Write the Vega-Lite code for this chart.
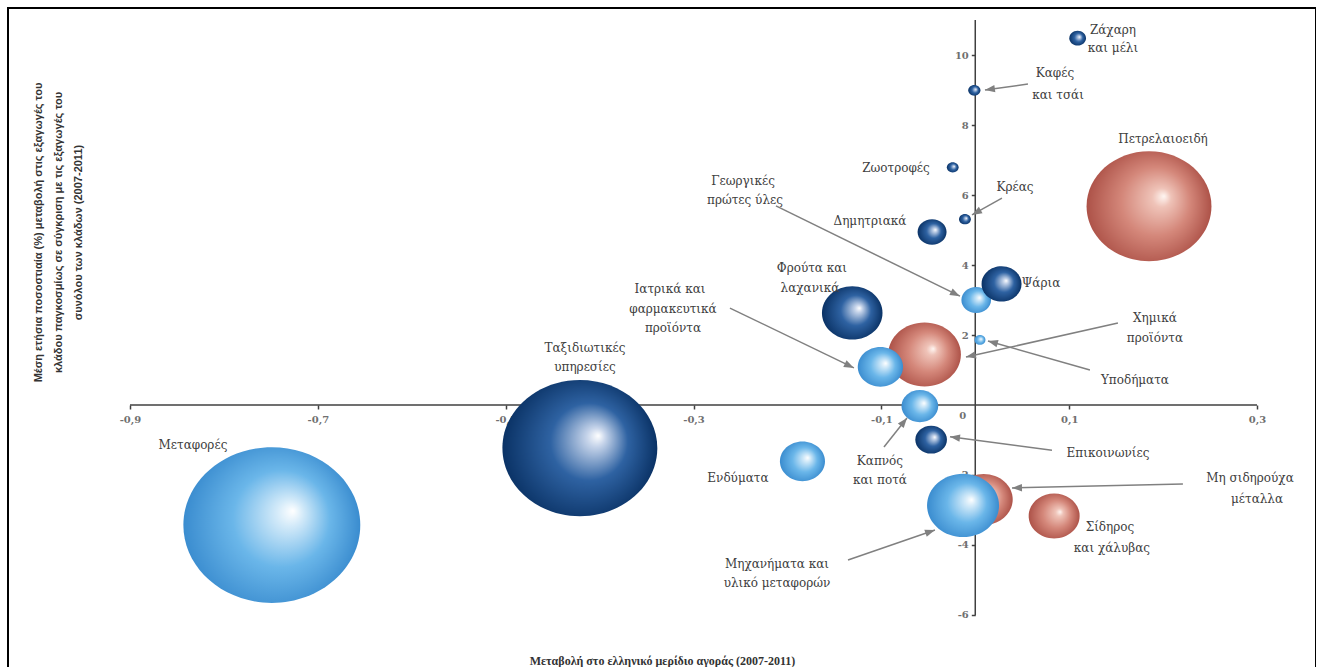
{
  "$schema": "https://vega.github.io/schema/vega-lite/v6.json",
  "width": 1308,
  "height": 661,
  "autosize": {"type": "none"},
  "padding": {"left": 8, "top": 8, "right": 0, "bottom": 0},
  "background": "white",
  "config": {
    "view": {"stroke": "#000000", "strokeWidth": 2},
    "axis": {"grid": false, "domain": false}
  },
  "datasets": {
    "axislines": [
      {"x": -0.9, "x2": 0.3, "y": 0, "y2": 0},
      {"x": 0, "x2": 0, "y": -6, "y2": 11}
    ],
    "bubbles": [
      {"name": "Ταξιδιωτικές υπηρεσίες", "g": "dark", "x": -0.421, "y": -1.23, "share": 240},
      {"name": "Φρούτα και λαχανικά", "g": "dark", "x": -0.131, "y": 2.63, "share": 36.7},
      {"name": "Ψάρια", "g": "dark", "x": 0.028, "y": 3.46, "share": 16.0},
      {"name": "Επικοινωνίες", "g": "dark", "x": -0.047, "y": -0.99, "share": 10.0},
      {"name": "Δημητριακά", "g": "dark", "x": -0.046, "y": 4.94, "share": 8.4},
      {"name": "Ζάχαρη και μέλι", "g": "dark", "x": 0.109, "y": 10.48, "share": 2.8},
      {"name": "Καφές και τσάι", "g": "dark", "x": -0.001, "y": 8.99, "share": 1.5},
      {"name": "Ζωοτροφές", "g": "dark", "x": -0.024, "y": 6.79, "share": 1.4},
      {"name": "Κρέας", "g": "dark", "x": -0.011, "y": 5.31, "share": 1.4},
      {"name": "Μεταφορές", "g": "light", "x": -0.749, "y": -3.43, "share": 313},
      {"name": "Μηχανήματα και υλικό μεταφορών", "g": "light", "x": -0.013, "y": -2.87, "share": 51.8},
      {"name": "Ιατρικά και φαρμακευτικά προϊόντα", "g": "light", "x": -0.101, "y": 1.09, "share": 20.5},
      {"name": "Ενδύματα", "g": "light", "x": -0.184, "y": -1.61, "share": 20.3},
      {"name": "Καπνός και ποτά", "g": "light", "x": -0.059, "y": -0.03, "share": 13.5},
      {"name": "Γεωργικές πρώτες ύλες", "g": "light", "x": 0.001, "y": 3.0, "share": 8.8},
      {"name": "Υποδήματα", "g": "light", "x": 0.005, "y": 1.86, "share": 1.2},
      {"name": "Πετρελαιοειδή", "g": "red", "x": 0.185, "y": 5.68, "share": 156},
      {"name": "Χημικά προϊόντα", "g": "red", "x": -0.054, "y": 1.44, "share": 52.9},
      {"name": "Μη σιδηρούχα μέταλλα", "g": "red", "x": 0.009, "y": -2.70, "share": 33.6},
      {"name": "Σίδηρος και χάλυβας", "g": "red", "x": 0.084, "y": -3.17, "share": 26.0}
    ],
    "labels": [
      {"t": "Ζάχαρη", "x": 0.1466, "y": 10.71},
      {"t": "και μέλι", "x": 0.1466, "y": 10.2},
      {"t": "Καφές", "x": 0.0849, "y": 9.49},
      {"t": "και τσάι", "x": 0.0881, "y": 8.86},
      {"t": "Πετρελαιοειδή", "x": 0.1999, "y": 7.6},
      {"t": "Ζωοτροφές", "x": -0.0844, "y": 6.77},
      {"t": "Κρέας", "x": 0.0423, "y": 6.23},
      {"t": "Γεωργικές", "x": -0.2473, "y": 6.4},
      {"t": "πρώτες ύλες", "x": -0.2452, "y": 5.86},
      {"t": "Δημητριακά", "x": -0.1121, "y": 5.26},
      {"t": "Φρούτα και", "x": -0.1739, "y": 3.91},
      {"t": "λαχανικά", "x": -0.176, "y": 3.34},
      {"t": "Ψάρια", "x": 0.07, "y": 3.49},
      {"t": "Ιατρικά και", "x": -0.325, "y": 3.31},
      {"t": "φαρμακευτικά", "x": -0.3219, "y": 2.74},
      {"t": "προϊόντα", "x": -0.3219, "y": 2.2},
      {"t": "Χημικά", "x": 0.1913, "y": 2.49},
      {"t": "προϊόντα", "x": 0.1913, "y": 1.91},
      {"t": "Ταξιδιωτικές", "x": -0.4156, "y": 1.63},
      {"t": "υπηρεσίες", "x": -0.4156, "y": 1.09},
      {"t": "Υποδήματα", "x": 0.17, "y": 0.71},
      {"t": "Μεταφορές", "x": -0.833, "y": -1.14},
      {"t": "Επικοινωνίες", "x": 0.1413, "y": -1.37},
      {"t": "Καπνός", "x": -0.1015, "y": -1.6},
      {"t": "και ποτά", "x": -0.1015, "y": -2.14},
      {"t": "Ενδύματα", "x": -0.2527, "y": -2.09},
      {"t": "Μη σιδηρούχα", "x": 0.2925, "y": -2.09},
      {"t": "μέταλλα", "x": 0.3, "y": -2.69},
      {"t": "Σίδηρος", "x": 0.1434, "y": -3.49},
      {"t": "και χάλυβας", "x": 0.1455, "y": -4.09},
      {"t": "Μηχανήματα και", "x": -0.2111, "y": -4.54},
      {"t": "υλικό μεταφορών", "x": -0.2111, "y": -5.09}
    ],
    "arrows": [
      {"x0": 0.0561, "y0": 9.17, "x": 0.0103, "y": 9.0},
      {"x0": 0.0284, "y0": 5.91, "x": -0.0035, "y": 5.43},
      {"x0": -0.2122, "y0": 5.69, "x": -0.0163, "y": 3.11},
      {"x0": -0.2612, "y0": 2.77, "x": -0.1292, "y": 1.06},
      {"x0": 0.1519, "y0": 2.34, "x": -0.0099, "y": 1.37},
      {"x0": 0.1221, "y0": 1.0, "x": 0.0135, "y": 1.83},
      {"x0": 0.0817, "y0": -1.29, "x": -0.0269, "y": -0.91},
      {"x0": 0.2211, "y0": -2.26, "x": 0.0391, "y": -2.37},
      {"x0": -0.0972, "y0": -1.2, "x": -0.0727, "y": -0.37},
      {"x0": -0.1355, "y0": -4.43, "x": -0.0429, "y": -3.57}
    ]
  },
  "encoding": {
    "x": {
      "field": "x", "type": "quantitative",
      "scale": {"domain": [-1.0299, 0.3628], "nice": false, "zero": false},
      "axis": {
        "title": "Μεταβολή στο ελληνικό μερίδιο αγοράς (2007-2011)",
        "values": [-0.9, -0.7, -0.5, -0.3, -0.1, 0, 0.1, 0.3],
        "labelExpr": "replace(datum.value + '', '.', ',')",
        "offset": -264,
        "tickSize": {"condition": {"test": "datum.value === 0", "value": 0}, "value": 4},
        "tickColor": "#404040",
        "tickWidth": 1.5,
        "labelFont": "DejaVu Serif",
        "labelFontSize": 10,
        "labelFontWeight": "bold",
        "labelColor": "#707070",
        "labelPadding": 5,
        "labelOffset": {"condition": {"test": "datum.value === 0", "value": -13}, "value": 0},
        "labelFlush": false,
        "labelOverlap": false,
        "titleFont": "Liberation Serif",
        "titleFontSize": 12,
        "titleFontWeight": "bold",
        "titleColor": "#333333",
        "titleX": 654,
        "titleY": 255,
        "titleAlign": "center",
        "titleBaseline": "middle"
      }
    },
    "y": {
      "field": "y", "type": "quantitative",
      "scale": {"domain": [-7.543, 11.343], "nice": false, "zero": false},
      "axis": {
        "title": ["Μέση ετήσια ποσοστιαία (%) μεταβολή στις εξαγωγές του", "κλάδου παγκοσμίως σε σύγκριση με τις εξαγωγές του", "συνόλου των κλάδων  (2007-2011)"],
        "values": [-6, -4, -2, 2, 4, 6, 8, 10],
        "labelExpr": "datum.value + ''",
        "offset": -967.3,
        "tickSize": 4,
        "tickColor": "#404040",
        "tickWidth": 1.5,
        "labelFont": "DejaVu Serif",
        "labelFontSize": 10,
        "labelFontWeight": "bold",
        "labelColor": "#707070",
        "labelPadding": 3,
        "labelOverlap": false,
        "titleFont": "Liberation Sans",
        "titleFontSize": 11,
        "titleFontWeight": "bold",
        "titleColor": "#333333",
        "titleAngle": -90,
        "titleX": -943,
        "titleY": 224,
        "titleAlign": "center",
        "titleBaseline": "top",
        "titleLineHeight": 20
      }
    }
  },
  "layer": [
    {
      "data": {"name": "axislines"},
      "mark": {"type": "rule", "color": "#404040", "strokeWidth": 1.5},
      "encoding": {"x2": {"field": "x2"}, "y2": {"field": "y2"}}
    },
    {
      "data": {"name": "bubbles"},
      "transform": [{"filter": "datum.g === 'red'"}],
      "mark": {
        "type": "point", "filled": true, "opacity": 1, "strokeWidth": 0,
        "shape": "M -1 0 A 1 0.88 0 1 0 1 0 A 1 0.88 0 1 0 -1 0 Z",
        "fill": {"gradient": "radial", "x1": 0.62, "y1": 0.42, "r1": 0, "x2": 0.5, "y2": 0.5, "r2": 0.5,
          "stops": [{"offset": 0, "color": "#fff6f2"}, {"offset": 0.15, "color": "#efc3b8"}, {"offset": 0.55, "color": "#d4877a"}, {"offset": 1, "color": "#ad5248"}]}
      },
      "encoding": {
        "size": {"field": "share", "type": "quantitative", "scale": {"domain": [0, 400], "range": [0, 40000], "zero": true}, "legend": null}
      }
    },
    {
      "data": {"name": "bubbles"},
      "transform": [{"filter": "datum.g === 'light'"}],
      "mark": {
        "type": "point", "filled": true, "opacity": 1, "strokeWidth": 0,
        "shape": "M -1 0 A 1 0.88 0 1 0 1 0 A 1 0.88 0 1 0 -1 0 Z",
        "fill": {"gradient": "radial", "x1": 0.62, "y1": 0.42, "r1": 0, "x2": 0.5, "y2": 0.5, "r2": 0.5,
          "stops": [{"offset": 0, "color": "#ffffff"}, {"offset": 0.15, "color": "#d3eaf9"}, {"offset": 0.55, "color": "#6ab6e9"}, {"offset": 1, "color": "#3a8ccf"}]}
      },
      "encoding": {
        "size": {"field": "share", "type": "quantitative", "scale": {"domain": [0, 400], "range": [0, 40000], "zero": true}, "legend": null}
      }
    },
    {
      "data": {"name": "bubbles"},
      "transform": [{"filter": "datum.g === 'dark'"}],
      "mark": {
        "type": "point", "filled": true, "opacity": 1, "strokeWidth": 0,
        "shape": "M -1 0 A 1 0.88 0 1 0 1 0 A 1 0.88 0 1 0 -1 0 Z",
        "fill": {"gradient": "radial", "x1": 0.62, "y1": 0.42, "r1": 0, "x2": 0.5, "y2": 0.5, "r2": 0.5,
          "stops": [{"offset": 0, "color": "#ffffff"}, {"offset": 0.12, "color": "#c6d4ea"}, {"offset": 0.5, "color": "#2e62a2"}, {"offset": 1, "color": "#0a3265"}]}
      },
      "encoding": {
        "size": {"field": "share", "type": "quantitative", "scale": {"domain": [0, 400], "range": [0, 40000], "zero": true}, "legend": null}
      }
    },
    {
      "data": {"name": "arrows"},
      "mark": {"type": "rule", "color": "#808080", "strokeWidth": 1.5},
      "encoding": {"x2": {"field": "x0"}, "y2": {"field": "y0"}}
    },
    {
      "data": {"name": "arrows"},
      "transform": [{"calculate": "atan2(-(datum.y - datum.y0) * 35, (datum.x - datum.x0) * 939.2) * 180 / PI", "as": "ang"}],
      "mark": {"type": "point", "filled": true, "opacity": 1, "size": 100, "color": "#808080", "strokeWidth": 0,
        "shape": "M 0 0 L -2 -0.75 L -2 0.75 Z"},
      "encoding": {"angle": {"field": "ang", "type": "quantitative", "scale": null}}
    },
    {
      "data": {"name": "labels"},
      "mark": {"type": "text", "font": "DejaVu Serif", "fontSize": 12, "color": "#404040", "align": "center", "baseline": "middle"},
      "encoding": {"text": {"field": "t"}}
    }
  ]
}
